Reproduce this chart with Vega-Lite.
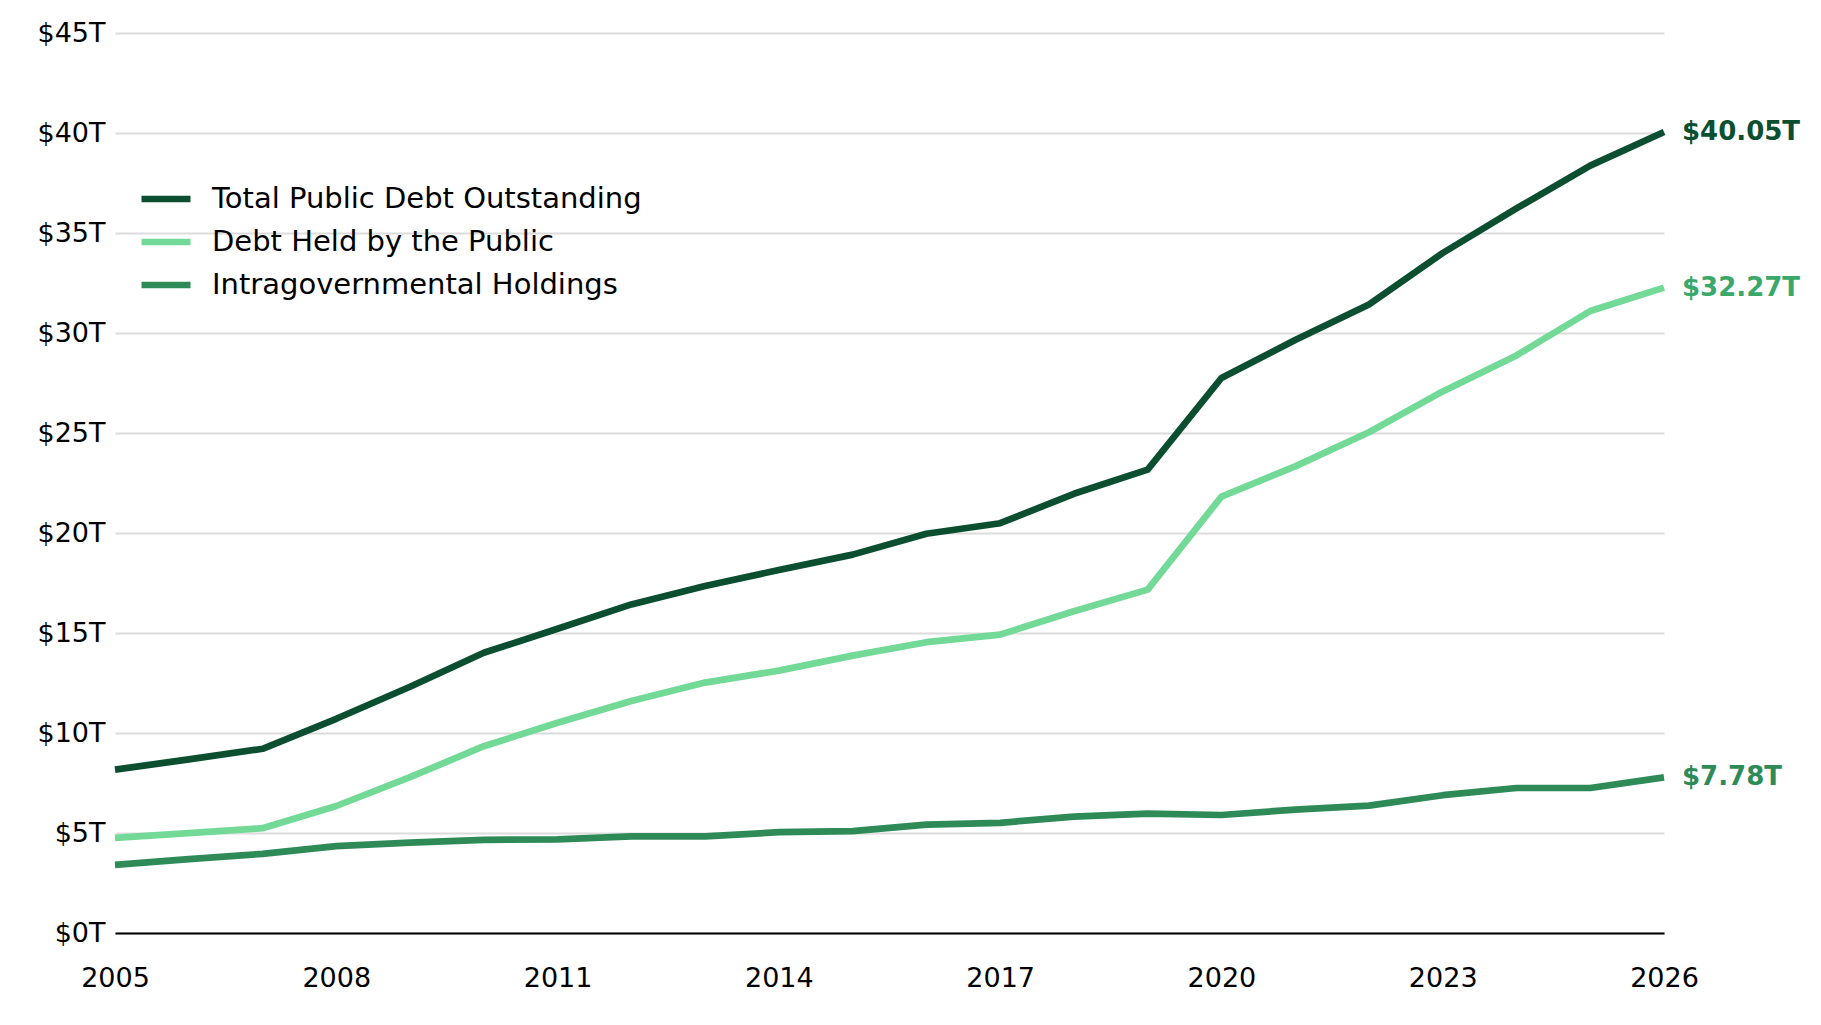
{
  "$schema": "https://vega.github.io/schema/vega-lite/v6.json",
  "autosize": {"type": "none"},
  "width": 1549,
  "height": 900,
  "padding": {"left": 115, "top": 33, "right": 157, "bottom": 92},
  "background": "white",
  "data": {
    "values": [
      {"year": 2005, "series": "Total Public Debt Outstanding", "value": 8.17},
      {"year": 2006, "series": "Total Public Debt Outstanding", "value": 8.68},
      {"year": 2007, "series": "Total Public Debt Outstanding", "value": 9.21},
      {"year": 2008, "series": "Total Public Debt Outstanding", "value": 10.71},
      {"year": 2009, "series": "Total Public Debt Outstanding", "value": 12.31},
      {"year": 2010, "series": "Total Public Debt Outstanding", "value": 14.01},
      {"year": 2011, "series": "Total Public Debt Outstanding", "value": 15.21},
      {"year": 2012, "series": "Total Public Debt Outstanding", "value": 16.43},
      {"year": 2013, "series": "Total Public Debt Outstanding", "value": 17.35},
      {"year": 2014, "series": "Total Public Debt Outstanding", "value": 18.15},
      {"year": 2015, "series": "Total Public Debt Outstanding", "value": 18.92},
      {"year": 2016, "series": "Total Public Debt Outstanding", "value": 19.96},
      {"year": 2017, "series": "Total Public Debt Outstanding", "value": 20.49},
      {"year": 2018, "series": "Total Public Debt Outstanding", "value": 21.96},
      {"year": 2019, "series": "Total Public Debt Outstanding", "value": 23.17},
      {"year": 2020, "series": "Total Public Debt Outstanding", "value": 27.75},
      {"year": 2021, "series": "Total Public Debt Outstanding", "value": 29.65},
      {"year": 2022, "series": "Total Public Debt Outstanding", "value": 31.42},
      {"year": 2023, "series": "Total Public Debt Outstanding", "value": 34.0},
      {"year": 2024, "series": "Total Public Debt Outstanding", "value": 36.23},
      {"year": 2025, "series": "Total Public Debt Outstanding", "value": 38.37},
      {"year": 2026, "series": "Total Public Debt Outstanding", "value": 40.05},
      {"year": 2005, "series": "Debt Held by the Public", "value": 4.76},
      {"year": 2006, "series": "Debt Held by the Public", "value": 4.99},
      {"year": 2007, "series": "Debt Held by the Public", "value": 5.24},
      {"year": 2008, "series": "Debt Held by the Public", "value": 6.35},
      {"year": 2009, "series": "Debt Held by the Public", "value": 7.79},
      {"year": 2010, "series": "Debt Held by the Public", "value": 9.34},
      {"year": 2011, "series": "Debt Held by the Public", "value": 10.51},
      {"year": 2012, "series": "Debt Held by the Public", "value": 11.6},
      {"year": 2013, "series": "Debt Held by the Public", "value": 12.52},
      {"year": 2014, "series": "Debt Held by the Public", "value": 13.12},
      {"year": 2015, "series": "Debt Held by the Public", "value": 13.87},
      {"year": 2016, "series": "Debt Held by the Public", "value": 14.54},
      {"year": 2017, "series": "Debt Held by the Public", "value": 14.92},
      {"year": 2018, "series": "Debt Held by the Public", "value": 16.09},
      {"year": 2019, "series": "Debt Held by the Public", "value": 17.17},
      {"year": 2020, "series": "Debt Held by the Public", "value": 21.82},
      {"year": 2021, "series": "Debt Held by the Public", "value": 23.33},
      {"year": 2022, "series": "Debt Held by the Public", "value": 25.04},
      {"year": 2023, "series": "Debt Held by the Public", "value": 27.08},
      {"year": 2024, "series": "Debt Held by the Public", "value": 28.88},
      {"year": 2025, "series": "Debt Held by the Public", "value": 31.1},
      {"year": 2026, "series": "Debt Held by the Public", "value": 32.27},
      {"year": 2005, "series": "Intragovernmental Holdings", "value": 3.41},
      {"year": 2006, "series": "Intragovernmental Holdings", "value": 3.69},
      {"year": 2007, "series": "Intragovernmental Holdings", "value": 3.96},
      {"year": 2008, "series": "Intragovernmental Holdings", "value": 4.34},
      {"year": 2009, "series": "Intragovernmental Holdings", "value": 4.52},
      {"year": 2010, "series": "Intragovernmental Holdings", "value": 4.66},
      {"year": 2011, "series": "Intragovernmental Holdings", "value": 4.68},
      {"year": 2012, "series": "Intragovernmental Holdings", "value": 4.83},
      {"year": 2013, "series": "Intragovernmental Holdings", "value": 4.83},
      {"year": 2014, "series": "Intragovernmental Holdings", "value": 5.04},
      {"year": 2015, "series": "Intragovernmental Holdings", "value": 5.09},
      {"year": 2016, "series": "Intragovernmental Holdings", "value": 5.42},
      {"year": 2017, "series": "Intragovernmental Holdings", "value": 5.51},
      {"year": 2018, "series": "Intragovernmental Holdings", "value": 5.82},
      {"year": 2019, "series": "Intragovernmental Holdings", "value": 5.97},
      {"year": 2020, "series": "Intragovernmental Holdings", "value": 5.9},
      {"year": 2021, "series": "Intragovernmental Holdings", "value": 6.17},
      {"year": 2022, "series": "Intragovernmental Holdings", "value": 6.37},
      {"year": 2023, "series": "Intragovernmental Holdings", "value": 6.89},
      {"year": 2024, "series": "Intragovernmental Holdings", "value": 7.25},
      {"year": 2025, "series": "Intragovernmental Holdings", "value": 7.25},
      {"year": 2026, "series": "Intragovernmental Holdings", "value": 7.78}
    ]
  },
  "encoding": {
    "x": {
      "field": "year",
      "type": "quantitative",
      "scale": {"domain": [2005, 2026], "nice": false, "zero": false},
      "axis": {
        "title": null,
        "values": [2005, 2008, 2011, 2014, 2017, 2020, 2023, 2026],
        "format": "d",
        "grid": false,
        "ticks": false,
        "domain": true,
        "domainColor": "black",
        "domainWidth": 2,
        "labelFlush": false,
        "labelOverlap": false,
        "labelBound": false,
        "labelPadding": 32,
        "labelFontSize": 27,
        "labelColor": "black",
        "labelFont": "DejaVu Sans"
      }
    },
    "y": {
      "field": "value",
      "type": "quantitative",
      "scale": {"domain": [0, 45], "nice": false},
      "axis": {
        "title": null,
        "values": [0, 5, 10, 15, 20, 25, 30, 35, 40, 45],
        "labelExpr": "'$' + datum.value + 'T'",
        "grid": true,
        "gridColor": "#dcdcdc",
        "gridWidth": 2,
        "ticks": false,
        "domain": false,
        "labelFlush": false,
        "labelOverlap": false,
        "labelPadding": 10,
        "labelFontSize": 27,
        "labelColor": "black",
        "labelFont": "DejaVu Sans"
      }
    }
  },
  "layer": [
    {
      "mark": {"type": "line", "strokeWidth": 6.7, "strokeJoin": "round", "strokeCap": "butt"},
      "encoding": {
        "color": {
          "field": "series",
          "type": "nominal",
          "sort": ["Total Public Debt Outstanding", "Debt Held by the Public", "Intragovernmental Holdings"],
          "scale": {
            "domain": ["Total Public Debt Outstanding", "Debt Held by the Public", "Intragovernmental Holdings"],
            "range": ["#0b4f30", "#72da96", "#2e8b57"]
          },
          "legend": {
            "title": null,
            "orient": "none",
            "legendX": 23,
            "legendY": 138,
            "symbolType": "stroke",
            "symbolSize": 2400,
            "symbolStrokeWidth": 6.7,
            "labelFontSize": 29,
            "labelFont": "DejaVu Sans",
            "labelColor": "black",
            "labelOffset": 18,
            "rowPadding": -1,
            "labelLimit": 600
          }
        }
      }
    },
    {
      "transform": [
        {"filter": "datum.year == 2026"},
        {"calculate": "'$' + format(datum.value, '.2f') + 'T'", "as": "label"}
      ],
      "mark": {
        "type": "text",
        "align": "left",
        "baseline": "middle",
        "dx": 18,
        "font": "DejaVu Sans",
        "fontWeight": "bold",
        "fontSize": 26
      },
      "encoding": {
        "text": {"field": "label"},
        "color": {
          "field": "series",
          "type": "nominal",
          "scale": {
            "domain": ["Total Public Debt Outstanding", "Debt Held by the Public", "Intragovernmental Holdings"],
            "range": ["#0b4f30", "#3aa86b", "#2e8b57"]
          },
          "legend": null
        }
      }
    }
  ],
  "resolve": {"scale": {"color": "independent"}},
  "config": {
    "view": {"stroke": null},
    "font": "DejaVu Sans"
  }
}
